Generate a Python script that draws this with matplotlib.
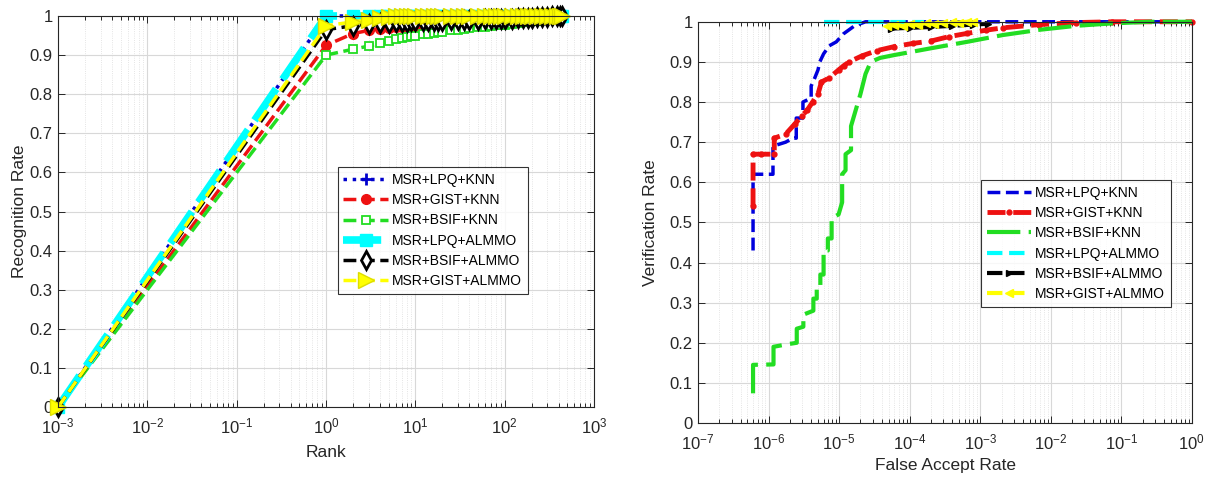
import numpy as np
import matplotlib.pyplot as plt
from matplotlib.ticker import LogLocator, NullFormatter

plt.rcParams['font.family'] = ['Liberation Sans', 'DejaVu Sans']
plt.rcParams['mathtext.fontset'] = 'custom'
plt.rcParams['mathtext.rm'] = 'Liberation Sans'

# ---- CMC data (left panel) ----
ranks = [0.001, 1, 2, 3, 4, 5, 6, 7, 8, 9, 10, 12, 14, 16, 18, 20, 25, 30, 35,
         40, 50, 60, 70, 80, 90, 100, 120, 140, 160, 180, 200, 230, 260, 300,
         340, 380, 420, 440]
cmc_lpq_knn = [0] + [1.0] * 37
cmc_gist_knn = [0, 0.925, 0.955, 0.963, 0.967, 0.970, 0.972, 0.973, 0.974, 0.975,
                0.975, 0.976, 0.977, 0.978, 0.978, 0.979, 0.980, 0.981, 0.982,
                0.983, 0.984, 0.985, 0.986, 0.987, 0.988, 0.988, 0.989, 0.990,
                0.991, 0.992, 0.993, 0.994, 0.995, 0.996, 0.997, 0.998, 0.999, 1.0]
cmc_bsif_knn = [0, 0.900, 0.915, 0.923, 0.930, 0.935, 0.940, 0.943, 0.946, 0.948,
                0.950, 0.953, 0.955, 0.957, 0.959, 0.960, 0.963, 0.965, 0.967,
                0.968, 0.971, 0.973, 0.975, 0.976, 0.977, 0.978, 0.980, 0.982,
                0.984, 0.985, 0.986, 0.988, 0.990, 0.992, 0.994, 0.996, 0.998, 1.0]
cmc_lpq_almmo = [0] + [1.0] * 37
cmc_bsif_almmo = [0, 0.965, 0.975, 0.980, 0.982, 0.983, 0.984, 0.985, 0.985, 0.986,
                  0.986, 0.987, 0.987, 0.988, 0.988, 0.988, 0.989, 0.989, 0.990,
                  0.990, 0.990, 0.991, 0.991, 0.992, 0.992, 0.992, 0.993, 0.994,
                  0.995, 0.995, 0.996, 0.997, 0.997, 0.998, 0.999, 1.0, 1.0, 1.0]
cmc_gist_almmo = [0, 0.975, 0.985, 0.990, 0.995, 0.997] + [1.0] * 32

# ---- ROC data (right panel) ----
far_lpq_knn = [6.0e-7, 6.0e-7, 1.15e-6, 1.15e-6, 1.74e-6, 2.2e-6, 2.46e-6, 2.46e-6,
               3.06e-6, 3.06e-6, 4.0e-6, 4.0e-6, 4.5e-6, 5.0e-6, 5.3e-6, 6.0e-6,
               7.2e-6, 9.1e-6, 1.15e-5, 1.65e-5, 2.36e-5, 1.0]
vr_lpq_knn = [0.43, 0.62, 0.62, 0.69, 0.70, 0.71, 0.71, 0.76,
              0.76, 0.80, 0.81, 0.84, 0.86, 0.88, 0.90, 0.92,
              0.94, 0.95, 0.97, 0.99, 1.0, 1.0]

far_gist_knn = [6.0e-7, 6.0e-7, 7.9e-7, 1.2e-6, 1.2e-6, 1.74e-6, 2.34e-6, 2.95e-6,
                3.52e-6, 4.2e-6, 5.0e-6, 5.6e-6, 7.2e-6, 9.8e-6, 1.15e-5, 1.38e-5,
                2.1e-5, 3.4e-5, 6.0e-5, 1.1e-4, 2.0e-4, 3.6e-4, 6.5e-4, 1.2e-3,
                2.1e-3, 6.9e-3, 2.3e-2, 7.4e-2, 1.0]
vr_gist_knn = [0.54, 0.67, 0.67, 0.67, 0.71, 0.72, 0.745, 0.765,
               0.78, 0.80, 0.82, 0.85, 0.86, 0.88, 0.89, 0.90,
               0.915, 0.928, 0.938, 0.946, 0.952, 0.963, 0.971, 0.979,
               0.985, 0.993, 0.998, 1.0, 1.0]

far_bsif_knn = [6.0e-7, 6.0e-7, 1.17e-6, 1.17e-6, 1.8e-6, 2.5e-6, 2.5e-6, 3.1e-6,
                3.1e-6, 4.3e-6, 4.3e-6, 4.8e-6, 4.8e-6, 5.4e-6, 5.4e-6, 6.0e-6,
                6.0e-6, 6.9e-6, 6.9e-6, 7.8e-6, 7.8e-6, 9.8e-6, 1.1e-5, 1.1e-5,
                1.23e-5, 1.23e-5, 1.47e-5, 1.47e-5, 1.65e-5, 2.0e-5, 2.36e-5,
                2.8e-5, 3.8e-5, 6.0e-5, 2.0e-4, 6.5e-4, 2.1e-3, 6.9e-3, 2.3e-2,
                7.4e-2, 0.25, 1.0]
vr_bsif_knn = [0.074, 0.145, 0.146, 0.19, 0.196, 0.20, 0.235, 0.24,
               0.27, 0.28, 0.31, 0.31, 0.34, 0.34, 0.37, 0.37,
               0.43, 0.43, 0.46, 0.46, 0.51, 0.52, 0.55, 0.62,
               0.63, 0.67, 0.68, 0.74, 0.77, 0.82, 0.87,
               0.90, 0.91, 0.917, 0.934, 0.95, 0.967, 0.98, 0.99,
               0.996, 1.0, 1.0]

far_lpq_almmo = [6.0e-6, 1.6e-4]
vr_lpq_almmo = [1.0, 1.0]

far_bsif_almmo = [5.5e-5, 1.0e-4, 2.0e-4, 4.0e-4, 8.0e-4, 1.3e-3]
vr_bsif_almmo = [0.983, 0.985, 0.987, 0.99, 0.993, 0.995]

far_gist_almmo = [4.8e-5, 6.0e-5, 8.0e-5, 1.0e-4, 1.3e-4, 1.7e-4, 2.2e-4, 3.0e-4,
                  4.0e-4, 5.0e-4, 6.5e-4, 8.0e-4]
vr_gist_almmo = [0.99, 0.992, 0.99, 0.995, 0.993, 0.997, 0.995, 0.998,
                 1.0, 0.998, 1.0, 1.0]

labels = ['MSR+LPQ+KNN', 'MSR+GIST+KNN', 'MSR+BSIF+KNN',
          'MSR+LPQ+ALMMO', 'MSR+BSIF+ALMMO', 'MSR+GIST+ALMMO']
yticks = [0, 0.1, 0.2, 0.3, 0.4, 0.5, 0.6, 0.7, 0.8, 0.9, 1]
yticklabels = ['0', '0.1', '0.2', '0.3', '0.4', '0.5', '0.6', '0.7', '0.8', '0.9', '1']
rank_ticks = [1e-3, 1e-2, 1e-1, 1e0, 1e1, 1e2, 1e3]
far_ticks = [1e-7, 1e-6, 1e-5, 1e-4, 1e-3, 1e-2, 1e-1, 1e0]

GREEN = '#22dd22'
TXT = '#262626'


def matlab_axes(ax):
    ax.set_facecolor('white')
    for s in ax.spines.values():
        s.set_color(TXT)
        s.set_linewidth(0.8)
    ax.tick_params(which='both', direction='in', top=True, right=True,
                   colors=TXT, labelsize=12, width=0.7)
    ax.tick_params(which='major', length=5)
    ax.tick_params(which='minor', length=3)
    ax.tick_params(axis='x', which='major', pad=7)
    ax.tick_params(axis='y', which='major', pad=4)
    ax.xaxis.set_minor_locator(LogLocator(base=10, subs=np.arange(2, 10)))
    ax.xaxis.set_minor_formatter(NullFormatter())
    ax.grid(True, which='major', color='#d8d8d8', linewidth=0.8)
    ax.grid(True, which='minor', axis='x', color='#dcdcdc', linewidth=0.6,
            linestyle=':')
    ax.set_axisbelow(True)
    ax.set_yticks(yticks)
    ax.set_yticklabels(yticklabels)
    ax.set_ylim(0, 1)


fig = plt.figure(figsize=(12.1, 4.84), dpi=100)

# ---------------- left: CMC ----------------
ax1 = fig.add_axes([0.048, 0.159, 0.443, 0.808])
ax1.set_xscale('log')
matlab_axes(ax1)
ax1.set_xticks(rank_ticks)
ax1.set_xlim(1e-3, 1e3)

ax1.plot(ranks, cmc_lpq_knn, ':', color='#0000cc', lw=2.5, marker='+', ms=9,
         mew=2, label=labels[0], clip_on=False)
ax1.plot(ranks, cmc_gist_knn, '--', color='#ee1111', lw=2.5, marker='o', ms=7,
         label=labels[1], clip_on=False)
ax1.plot(ranks, cmc_bsif_knn, '--', color=GREEN, lw=2.5, marker='s', ms=6,
         mfc='white', mew=1.3, label=labels[2], clip_on=False)
ax1.plot(ranks, cmc_lpq_almmo, '-', color='cyan', lw=5.5, dashes=(5, 1.5),
         marker='s', ms=9, mfc='cyan', label=labels[3], clip_on=False)
ax1.plot(ranks, cmc_bsif_almmo, '--', color='black', lw=2.5, marker='d', ms=9,
         mfc='white', mew=2, label=labels[4], clip_on=False)
ax1.plot(ranks, cmc_gist_almmo, '--', color='#ffff00', lw=2.5, marker='>', ms=11,
         mec='#dddd00', label=labels[5], clip_on=False)

ax1.set_xlabel('Rank', fontsize=12.5, color=TXT, labelpad=6)
ax1.set_ylabel('Recognition Rate', fontsize=12.5, color=TXT, labelpad=2)
leg1 = ax1.legend(loc='upper left', bbox_to_anchor=(0.522, 0.613), fontsize=10,
                  frameon=True, fancybox=False, edgecolor='black',
                  handlelength=3.2, labelspacing=0.45, borderpad=0.4,
                  handletextpad=0.3, borderaxespad=0)
leg1.get_frame().set_linewidth(0.8)

# ---------------- right: ROC ----------------
ax2 = fig.add_axes([0.577, 0.126, 0.408, 0.829])
ax2.set_xscale('log')
matlab_axes(ax2)
ax2.set_xticks(far_ticks)
ax2.set_xlim(1e-7, 1e0)

ax2.plot(far_lpq_knn, vr_lpq_knn, '--', color='#0000dd', lw=2.5,
         label=labels[0], clip_on=False)
ax2.plot(far_gist_knn, vr_gist_knn, '--', color='#ee1111', lw=3.5, marker='.',
         ms=7, label=labels[1], clip_on=False)
ax2.plot(far_bsif_knn, vr_bsif_knn, color=GREEN, lw=3, dashes=(8, 2),
         label=labels[2], clip_on=False)
ax2.plot(far_lpq_almmo, vr_lpq_almmo, '--', color='cyan', lw=3,
         label=labels[3], clip_on=False)
ax2.plot(far_bsif_almmo, vr_bsif_almmo, '--', color='black', lw=3, marker='>',
         ms=4, label=labels[4], clip_on=False)
ax2.plot(far_gist_almmo, vr_gist_almmo, '--', color='#ffff00', lw=3, marker='<',
         ms=6, label=labels[5], clip_on=False)

ax2.set_xlabel('False Accept Rate', fontsize=12.5, color=TXT, labelpad=4)
ax2.set_ylabel('Verification Rate', fontsize=12.5, color=TXT, labelpad=8)
leg2 = ax2.legend(loc='upper left', bbox_to_anchor=(0.573, 0.605), fontsize=10,
                  frameon=True, fancybox=False, edgecolor='black',
                  handlelength=3.2, labelspacing=0.45, borderpad=0.4,
                  handletextpad=0.3, borderaxespad=0)
leg2.get_frame().set_linewidth(0.8)

fig.savefig('out.png', dpi=100)
